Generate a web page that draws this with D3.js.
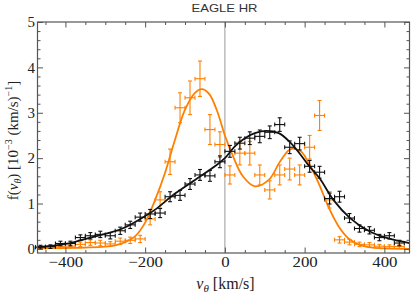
<!DOCTYPE html>
<html>
<head>
<meta charset="utf-8">
<script src="https://cdn.jsdelivr.net/npm/d3@7"></script>
<style>
  body { margin: 0; background: #fff; }
</style>
</head>
<body>
<div id="chart"></div>
<script>
// bin centres (km/s), same for both samples
var vbins = [-462.5,-437.5,-412.5,-387.5,-362.5,-337.5,-312.5,-287.5,-262.5,-237.5,-212.5,-187.5,-162.5,-137.5,-112.5,-87.5,-62.5,-37.5,-12.5,
  12.5,37.5,62.5,87.5,112.5,137.5,162.5,187.5,212.5,237.5,262.5,287.5,312.5,337.5,362.5,387.5,412.5,437.5];
var halfBin = 12.5;

// black histogram
var blackF = [0.04,0.05,0.12,0.12,0.25,0.29,0.32,0.29,0.40,0.53,0.70,0.77,0.79,1.15,1.18,1.43,1.63,1.61,1.92,
  2.15,2.33,2.44,2.48,2.57,2.74,2.24,2.32,1.82,1.69,1.11,1.15,0.68,0.45,0.41,0.25,0.29,0.13];
var blackErr = [0.04,0.04,0.05,0.05,0.06,0.07,0.07,0.07,0.08,0.08,0.09,0.10,0.10,0.11,0.11,0.12,0.12,0.12,0.13,
  0.13,0.13,0.14,0.14,0.14,0.15,0.14,0.14,0.13,0.13,0.12,0.12,0.10,0.08,0.08,0.07,0.07,0.06];

// orange histogram
var orangeF = [0.03,0.04,0.05,0.06,0.10,0.14,0.13,0.11,0.17,0.19,0.22,0.66,1.08,1.92,3.11,3.33,3.75,2.63,2.30,
  1.63,2.11,2.11,1.63,1.30,1.63,1.76,1.63,2.24,2.94,1.08,0.20,0.15,0.10,0.09,0.06,0.05,0.05];
var orangeErr = [0.03,0.03,0.04,0.04,0.05,0.06,0.06,0.05,0.07,0.07,0.08,0.13,0.18,0.28,0.33,0.37,0.39,0.33,0.28,
  0.20,0.26,0.26,0.22,0.20,0.22,0.24,0.22,0.26,0.33,0.18,0.07,0.06,0.05,0.05,0.04,0.04,0.04];

// fitted curves
var blackCurveV = [-470,-425,-388,-338,-288,-254,-212,-176,-125,-75,-25,0,25,50,75,105,135,160,185,210,238,272,314,360,410,463];
var blackCurveF = [0.04,0.08,0.13,0.25,0.36,0.46,0.66,0.86,1.22,1.52,1.82,2.00,2.26,2.44,2.55,2.60,2.55,2.38,2.13,1.84,1.55,1.08,0.68,0.40,0.23,0.13];
var orangeCurveV = [-470,-400,-350,-300,-275,-250,-225,-200,-175,-150,-125,-100,-75,-58,-40,-20,0,20,45,75,110,140,165,190,210,235,260,285,310,335,360,400,463];
var orangeCurveF = [0.01,0.02,0.03,0.05,0.08,0.15,0.28,0.58,1.08,1.68,2.41,3.07,3.44,3.52,3.42,3.05,2.50,2.05,1.60,1.38,1.52,1.95,2.20,2.15,1.90,1.45,0.92,0.50,0.23,0.10,0.04,0.01,0.0];

var xMajor = [-400,-200,0,200,400];
var xMinor = [-450,-350,-300,-250,-150,-100,-50,50,100,150,250,300,350,450];
var yMajor = [0,1,2,3,4,5];
var yMinor = [0.2,0.4,0.6,0.8,1.2,1.4,1.6,1.8,2.2,2.4,2.6,2.8,3.2,3.4,3.6,3.8,4.2,4.4,4.6,4.8];

const W = 413, H = 296;
const mLeft = 37.5, mRight = 409.5, mTop = 22, mBottom = 253;
const orange = "#ff8000", black = "#111";
const serif = "'Liberation Serif', 'Times New Roman', Times, serif";
const sans = "'Liberation Sans', Arial, Helvetica, sans-serif";

var svg = d3.select("#chart").append("svg").attr("width", W).attr("height", H);

var x = d3.scaleLinear().domain([-470, 463]).range([mLeft, mRight]);
var y = d3.scaleLinear().domain([-0.09, 5]).range([mBottom, mTop]);

// zero line
svg.append("line")
  .attr("x1", x(0)).attr("x2", x(0)).attr("y1", mTop).attr("y2", mBottom)
  .style("stroke", "#999").style("stroke-width", 1);

// curves
function curve(vs, fs, col) {
  var pts = vs.map(function(v, i) { return [v, fs[i]]; });
  svg.append("path")
    .attr("d", d3.line().x(function(d) { return x(d[0]); }).y(function(d) { return y(d[1]); }).curve(d3.curveCatmullRom)(pts))
    .style("fill", "none").style("stroke", col).style("stroke-width", 1.8);
}

function points(fs, es, col) {
  var g = svg.append("g").style("stroke", col).style("stroke-width", 1.1);
  vbins.forEach(function(v, i) {
    var cx = x(v), cy = y(fs[i]);
    var y0 = y(fs[i] - es[i]), y1 = y(fs[i] + es[i]);
    var x0 = x(v - halfBin), x1 = x(v + halfBin);
    var c = 2;
    g.append("line").attr("x1", x0).attr("x2", x1).attr("y1", cy).attr("y2", cy);
    g.append("line").attr("x1", cx).attr("x2", cx).attr("y1", y0).attr("y2", y1);
    g.append("line").attr("x1", x0).attr("x2", x0).attr("y1", cy - c).attr("y2", cy + c);
    g.append("line").attr("x1", x1).attr("x2", x1).attr("y1", cy - c).attr("y2", cy + c);
    g.append("line").attr("x1", cx - c).attr("x2", cx + c).attr("y1", y0).attr("y2", y0);
    g.append("line").attr("x1", cx - c).attr("x2", cx + c).attr("y1", y1).attr("y2", y1);
  });
}

curve(orangeCurveV, orangeCurveF, orange);
points(orangeF, orangeErr, orange);
curve(blackCurveV, blackCurveF, black);
points(blackF, blackErr, black);

// frame
svg.append("rect")
  .attr("x", mLeft).attr("y", mTop).attr("width", mRight - mLeft).attr("height", mBottom - mTop)
  .style("fill", "none").style("stroke", "#555").style("stroke-width", 1.2);

// axes with inward ticks on all four sides
function axisPair(axisFn, scale, major, minor, tr, pad, labels) {
  var gMaj = svg.append("g").attr("transform", tr)
    .call(axisFn(scale).tickValues(major).tickSize(-5.5).tickPadding(pad)
      .tickFormat(labels ? d3.format("") : ""));
  var gMin = svg.append("g").attr("transform", tr)
    .call(axisFn(scale).tickValues(minor).tickSize(-3).tickFormat(""));
  [gMaj, gMin].forEach(function(g) {
    g.select(".domain").remove();
    g.selectAll(".tick line").style("stroke", "#555").style("stroke-width", 1);
  });
  gMaj.selectAll("text")
    .style("font-family", serif).style("font-size", "15px").style("fill", "#222");
  return gMaj;
}
var gxb = axisPair(d3.axisBottom, x, xMajor, xMinor, "translate(0," + mBottom + ")", 3, true);
axisPair(d3.axisTop, x, xMajor, xMinor, "translate(0," + mTop + ")", 3, false);
var gyl = axisPair(d3.axisLeft, y, yMajor, yMinor, "translate(" + mLeft + ",0)", 2.5, true);
axisPair(d3.axisRight, y, yMajor, yMinor, "translate(" + mRight + ",0)", 3, false);
// the reference glyphs are a little wider than the font
gxb.selectAll("text").each(function() {
  var t = d3.select(this);
  t.attr("textLength", this.getComputedTextLength() * 1.12).attr("lengthAdjust", "spacingAndGlyphs");
});

// title
svg.append("text")
  .attr("x", (mLeft + mRight) / 2 + 1).attr("y", 11.5).attr("text-anchor", "middle")
  .style("font-family", sans).style("font-size", "11.5px").style("fill", "#333")
  .attr("textLength", 66).attr("lengthAdjust", "spacingAndGlyphs")
  .text("EAGLE HR");

// x label
var xl = svg.append("text")
  .style("font-family", serif).style("font-size", "16px").style("fill", "#222")
  .attr("x", (mLeft + mRight) / 2 + 2).attr("y", 289).attr("text-anchor", "middle");
xl.append("tspan").style("font-style", "italic").text("v");
xl.append("tspan").attr("dy", 3).style("font-size", "11px").style("font-style", "italic").text("θ");
xl.append("tspan").attr("dy", -3).text(" [km/s]");

// y label
var yl = svg.append("text")
  .style("font-family", serif).style("font-size", "15px").style("fill", "#222")
  .attr("transform", "translate(18," + ((mTop + mBottom) / 2 + 3) + ") rotate(-90)")
  .attr("text-anchor", "middle");
yl.append("tspan").text("f(");
yl.append("tspan").style("font-style", "italic").text("v");
yl.append("tspan").attr("dy", 3).style("font-size", "10px").style("font-style", "italic").text("θ");
yl.append("tspan").attr("dy", -3).text(") [10");
yl.append("tspan").attr("dy", -6).style("font-size", "10px").text("−3");
yl.append("tspan").attr("dy", 6).text(" (km/s)");
yl.append("tspan").attr("dy", -6).style("font-size", "10px").text("−1");
yl.append("tspan").attr("dy", 6).text("]");
</script>
</body>
</html>
